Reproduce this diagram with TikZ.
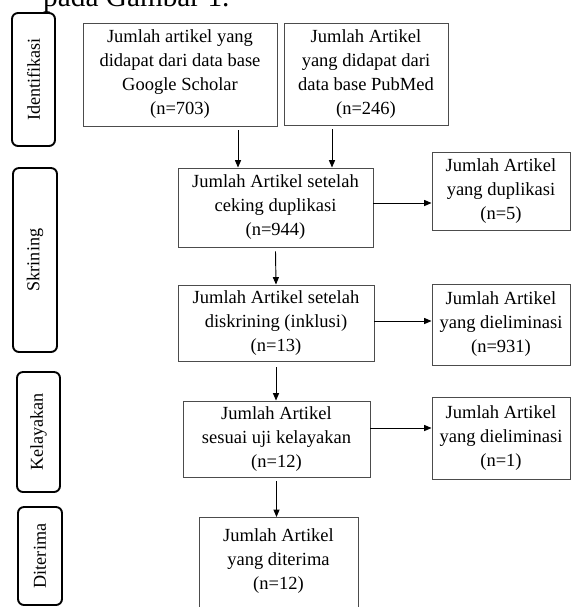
\documentclass[tikz,border=0pt]{standalone}
\usepackage{fontspec}
\setmainfont{Liberation Serif}
\usetikzlibrary{arrows.meta}
\tikzset{
  box/.style={draw=black!70, line width=0.8pt, align=center, inner sep=0pt,
    font=\fontsize{15.8}{20.5}\selectfont},
  stage/.style={draw, line width=1.6pt, rounded corners=0.18cm, inner sep=0pt,
    font=\fontsize{15.5}{18}\selectfont},
  arr/.style={->, line width=0.8pt}
}
\begin{document}
\begin{tikzpicture}[x=0.03cm, y=-0.03cm, >={Triangle[length=2.2mm,width=1.8mm]}]
\useasboundingbox (0,0) rectangle (571,607);
\clip (0,0) rectangle (571,607);
\node [anchor=base west, inner sep=0pt, font=\fontsize{25}{30}\selectfont] (caption) at (43,6) {pada Gambar 1.};
% stage labels on the left
\foreach \n/\l/\x/\y/\w/\h in {ident/Identifikasi/33.5/79.5/43/133, skrin/Skrining/35/260/44/184,
    layak/Kelayakan/38.5/432/43/120, terima/Diterima/40/556/44/98}
  \node [stage, minimum width=\w*0.03cm, minimum height=\h*0.03cm] (stage-\n) at (\x,\y) {\rotatebox{90}{\l}};
% main column
\node [box, minimum width=5.82cm, minimum height=3.09cm] (gs) at (180,74.5)
  {Jumlah artikel yang\\didapat dari data base\\Google Scholar\\(n=703)};
\node [box, minimum width=4.92cm, minimum height=3.06cm] (pm) at (366,74)
  {Jumlah Artikel\\yang didapat dari\\data base PubMed\\(n=246)};
\node [box, minimum width=5.85cm, minimum height=2.37cm] (dup) at (275.5,207.5)
  {Jumlah Artikel setelah\\ceking duplikasi\\(n=944)};
\node [box, minimum width=5.88cm, minimum height=2.28cm] (skr) at (276,323)
  {Jumlah Artikel setelah\\diskrining (inklusi)\\(n=13)};
\node [box, minimum width=5.61cm, minimum height=2.28cm] (lay) at (276.5,439)
  {Jumlah Artikel\\sesuai uji kelayakan\\(n=12)};
\node [box, minimum width=4.77cm, anchor=north, inner ysep=0.33cm, text depth=3cm] (ter) at (278.5,517)
  {Jumlah Artikel\\yang diterima\\(n=12)};
% excluded column
\node [box, minimum width=4.14cm, minimum height=2.34cm] (rdup) at (501,191)
  {Jumlah Artikel\\yang duplikasi\\(n=5)};
\node [box, minimum width=4.14cm, minimum height=2.43cm] (relim1) at (501,324.5)
  {Jumlah Artikel\\yang dieliminasi\\(n=931)};
\node [box, minimum width=4.14cm, minimum height=2.46cm] (relim2) at (501,438)
  {Jumlah Artikel\\yang dieliminasi\\(n=1)};
% connectors
\draw [arr] ([xshift=1.74cm,yshift=-0.12cm]gs.south) -- ([xshift=1.74cm]gs.south |- dup.north);
\draw [arr] ([xshift=-1.02cm,yshift=-0.12cm]pm.south) -- ([xshift=-1.02cm]pm.south |- dup.north);
\draw [arr] ([yshift=-0.12cm]dup.south) -- (skr.north);
\draw [arr] ([yshift=0.135cm]dup.east) -- ([yshift=0.135cm]dup.east -| rdup.west);
\draw [arr] ([yshift=-0.18cm]skr.south) -- (skr.south |- lay.north);
\draw [arr] ([yshift=0.06cm]skr.east) -- ([yshift=0.06cm]skr.east -| relim1.west);
\draw [arr] ([yshift=-0.12cm]lay.south) -- (lay.south |- ter.north);
\draw [arr] ([yshift=0.33cm]lay.east) -- ([yshift=0.33cm]lay.east -| relim2.west);
\end{tikzpicture}
\end{document}
